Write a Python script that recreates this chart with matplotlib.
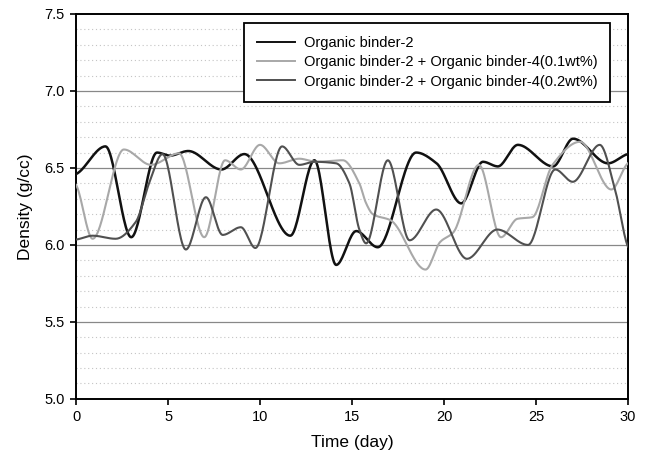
import numpy as np
import matplotlib
matplotlib.use("Agg")
import matplotlib.pyplot as plt

plt.rcParams['font.family'] = ['Liberation Sans', 'DejaVu Sans']

# values (day, density g/cc) at turning points of each curve
days_b2 = [0, 1.6, 3.0, 4.4, 5.1, 6.1, 7.9, 9.15, 11.65, 12.96, 14.14, 15.23, 16.4,
           18.49, 19.6, 20.94, 22.12, 22.93, 24.02, 25.93, 27.02, 28.92, 30]
dens_b2 = [6.46, 6.64, 6.05, 6.60, 6.58, 6.61, 6.49, 6.59, 6.06, 6.55, 5.87, 6.09, 5.985,
           6.60, 6.53, 6.27, 6.54, 6.51, 6.65, 6.51, 6.69, 6.53, 6.59]

days_01 = [0, 0.9, 2.6, 4.07, 5.6, 6.97, 8.1, 8.96, 10.0, 11.05, 12.14, 13.05, 14.5,
           15.4, 15.77, 16.13, 17.1, 19.0, 19.8, 20.5, 21.9, 23.1, 24.0, 24.8, 25.9,
           27.4, 29.1, 30]
dens_01 = [6.39, 6.04, 6.62, 6.52, 6.595, 6.05, 6.55, 6.49, 6.65, 6.53, 6.56, 6.54, 6.55,
           6.40, 6.27, 6.20, 6.16, 5.84, 6.02, 6.08, 6.52, 6.05, 6.17, 6.18, 6.52,
           6.67, 6.36, 6.53]

days_02 = [0, 0.9, 2.15, 3.25, 3.97, 4.7, 5.97, 7.06, 7.97, 8.96, 9.75, 11.2, 12.14,
           12.96, 14.14, 14.86, 15.4, 15.77, 16.95, 18.13, 19.58, 21.25, 22.9, 24.57,
           26.05, 27.0, 28.47, 29.3, 30]
dens_02 = [6.035, 6.06, 6.04, 6.15, 6.40, 6.59, 5.97, 6.31, 6.065, 6.115, 5.98, 6.64, 6.52,
           6.54, 6.53, 6.40, 6.10, 6.01, 6.55, 6.03, 6.23, 5.91, 6.10, 6.00,
           6.49, 6.41, 6.65, 6.36, 5.99]

labels = ["Organic binder-2",
          "Organic binder-2 + Organic binder-4(0.1wt%)",
          "Organic binder-2 + Organic binder-4(0.2wt%)"]
colors = ["#111111", "#a8a8a8", "#505050"]


def smooth(x, y, n=600):
    # monotone cubic (pchip) so the drawn line is smooth like the original
    x = np.asarray(x, float)
    y = np.asarray(y, float)
    h = np.diff(x)
    d = np.diff(y) / h
    m = np.zeros_like(y)
    for k in range(1, len(x) - 1):
        if d[k - 1] * d[k] > 0:
            w1 = 2 * h[k] + h[k - 1]
            w2 = h[k] + 2 * h[k - 1]
            m[k] = (w1 + w2) / (w1 / d[k - 1] + w2 / d[k])
    m[0] = d[0] * 0.5
    m[-1] = d[-1] * 0.5
    xs = np.linspace(x[0], x[-1], n)
    i = np.clip(np.searchsorted(x, xs) - 1, 0, len(h) - 1)
    t = (xs - x[i]) / h[i]
    h00 = 2 * t**3 - 3 * t**2 + 1
    h10 = t**3 - 2 * t**2 + t
    h01 = -2 * t**3 + 3 * t**2
    h11 = t**3 - t**2
    ys = h00 * y[i] + h10 * h[i] * m[i] + h01 * y[i + 1] + h11 * h[i] * m[i + 1]
    return xs, ys


fig = plt.figure(figsize=(6.5, 4.66), dpi=100)
ax = fig.add_axes([0.117, 0.144, 0.849, 0.826])

# grid: solid at the labelled ticks, dotted every 0.1
for v in np.arange(5.1, 7.45, 0.1):
    if abs(v * 2 - round(v * 2)) < 1e-6:
        ax.axhline(v, color="#888888", lw=0.9, zorder=1)
    else:
        ax.axhline(v, color="#c4c4c4", lw=0.8, ls=(0, (1, 2.5)), zorder=1)

series = [(days_b2, dens_b2), (days_01, dens_01), (days_02, dens_02)]
for (dx, dy), lab, c in zip(series, labels, colors):
    xs, ys = smooth(dx, dy)
    lw = 1.8 if c == "#111111" else 1.5
    ax.plot(xs, ys, color=c, lw=lw, label=lab, zorder=3)

ax.set_xlim(0, 30)
ax.set_ylim(5.0, 7.5)
ax.set_xticks([0, 5, 10, 15, 20, 25, 30])
ax.set_yticks([5.0, 5.5, 6.0, 6.5, 7.0, 7.5])
ax.set_yticklabels(["5.0", "5.5", "6.0", "6.5", "7.0", "7.5"])
ax.tick_params(direction="out", length=4, width=1.2, labelsize=10.5, pad=4)
for s in ax.spines.values():
    s.set_linewidth(1.4)

ax.set_xlabel("Time (day)", fontsize=12.5, labelpad=8)
ax.set_ylabel("Density (g/cc)", fontsize=12.5, labelpad=8)

leg = ax.legend(loc="upper left", bbox_to_anchor=(0.304, 0.976), fontsize=10.5,
                frameon=True, fancybox=False, edgecolor="black", framealpha=1,
                handlelength=2.6, handletextpad=0.6, labelspacing=0.35,
                borderpad=0.9, borderaxespad=0)
leg.get_frame().set_linewidth(1.3)
for h in leg.get_lines():
    h.set_linewidth(1.4)

fig.savefig("out.png", dpi=100)
